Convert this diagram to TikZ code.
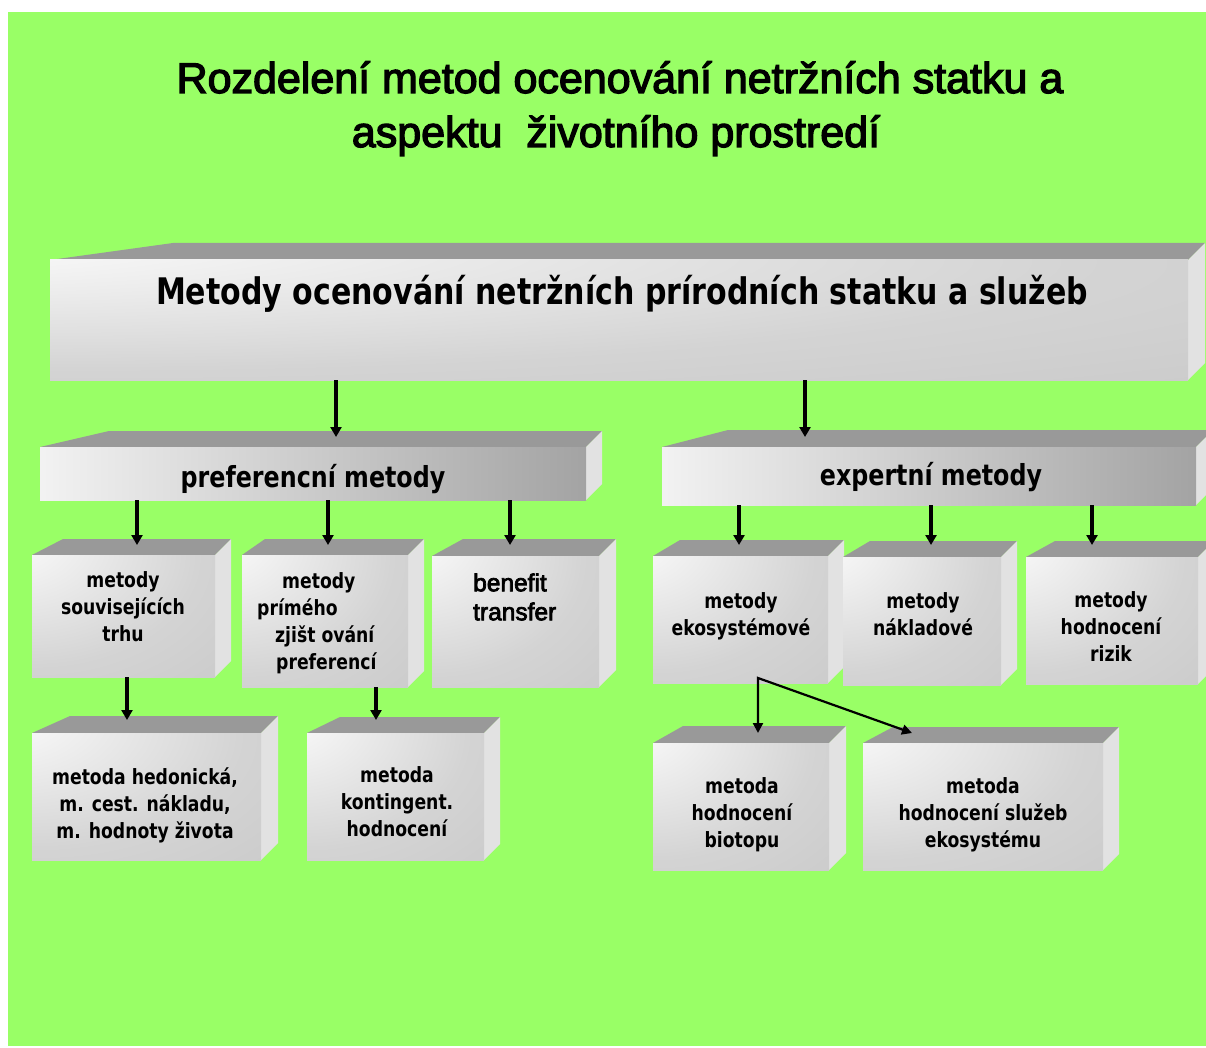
\documentclass[tikz,border=0pt]{standalone}
\usepackage{fontspec}
\setmainfont{Liberation Sans}
\newfontfamily\titlefont[FakeBold=3]{Liberation Sans}
\newfontfamily\boxfont[FakeStretch=0.82]{DejaVu Sans}
\usetikzlibrary{arrows.meta,calc}

\definecolor{bggreen}{HTML}{99FF66}
\definecolor{topgray}{HTML}{999999}
\definecolor{sidegray}{HTML}{E2E2E2}

\pgfdeclareradialshading{frontshade}{\pgfpoint{-35bp}{35bp}}{%
  color(0bp)=(white); color(45bp)=(black!17); color(90bp)=(black!24); color(150bp)=(black!26)}

\tikzset{
  front/.style={inner sep=0pt, outer sep=0pt, shading=frontshade},
  bar/.style={inner sep=0pt, outer sep=0pt, left color=black!5, right color=black!36},
  title/.style={inner sep=0pt, font={\titlefont\fontsize{43}{54}\selectfont}},
  maintext/.style={inner sep=0pt, font={\boxfont\bfseries\fontsize{36.6}{44}\selectfont}},
  bartext/.style={inner sep=0pt, font={\boxfont\bfseries\fontsize{29}{35}\selectfont}},
  boxtext/.style={inner sep=0pt, align=center, font={\boxfont\bfseries\fontsize{21}{27}\selectfont}},
  bentext/.style={inner sep=0pt, align=left, font={\titlefont\fontsize{24.5}{29}\selectfont}},
  arr/.style={-{Triangle[length=10pt,width=11pt]}, line width=3.2pt},
  thinarr/.style={{Triangle[length=10pt,width=10pt]}-{Triangle[length=10pt,width=10pt]}, line width=2.2pt}
}

% #1 style, #2 name, #3 #4 front top left, #5 #6 front bottom right, #7 back left x, #8 depth
\newcommand{\cuboid}[8][front]{%
  \fill[topgray] (#3,#4) -- (#7,#4-#8) -- (#5+#8,#4-#8) -- (#5,#4) -- cycle;
  \fill[sidegray] (#5,#4) -- (#5+#8,#4-#8) -- (#5+#8,#6-#8) -- (#5,#6) -- cycle;
  \node[#1, minimum width={(#5-#3)*1pt}, minimum height={(#6-#4)*1pt}, anchor=north west] (#2) at (#3,#4) {};
}

\begin{document}
\begin{tikzpicture}[x=1pt,y=-1pt,line cap=butt]
  % background
  \useasboundingbox (0,0) rectangle (1206,1048);
  \fill[white] (0,0) rectangle (1206,1048);
  \fill[bggreen] (8,12) rectangle (1206,1046);

  % title
  \node[title, anchor=base] (title1) at (620,93) {Rozdelení metod ocenování netržních statku a};
  \node[title, anchor=base] (title2) at (616,147) {aspektu~ životního prostredí};

  % boxes
  \cuboid{main}{50}{260}{1188}{380}{173}{17}
  \cuboid[bar]{barP}{40}{447}{586}{500}{109}{16}
  \cuboid[bar]{barE}{662}{447}{1196}{505}{728}{17}
  \cuboid{trh}{32}{555}{215}{677}{63}{16}
  \cuboid{prime}{242}{555}{408}{687}{265}{16}
  \cuboid{benefit}{432}{556}{599}{687}{463}{17}
  \cuboid{eko}{653}{556}{828}{683}{680}{16}
  \cuboid{naklad}{843}{557}{1001}{685}{870}{16}
  \cuboid{rizik}{1026}{557}{1198}{684}{1055}{16}
  \cuboid{hedon}{32}{733}{261}{860}{70}{17}
  \cuboid{konting}{307}{733}{484}{860}{340}{16}
  \cuboid{biotop}{653}{743}{829}{870}{683}{17}
  \cuboid{sluzeb}{863}{743}{1103}{870}{893}{16}

  % labels
  \node[maintext, anchor=base] (tmain) at (622,305) {Metody ocenování netržních prírodních statku a služeb};
  \node[bartext, anchor=base] (tbarP) at (313,487) {preferencní metody};
  \node[bartext, anchor=base] (tbarE) at (931,485) {expertní metody};
  \node[boxtext] (ttrh) at (123,607) {metody\\souvisejících\\trhu};
  \node[boxtext, align=left, anchor=west] (tprime) at (257,623)
    {\hspace*{25pt}metody\\prímého\\\hspace*{18pt}zjišt ování\\\hspace*{19pt}preferencí};
  \node[bentext, anchor=west] (tbenefit) at (473,597) {benefit\\transfer};
  \node[boxtext] (teko) at (741,616) {metody\\ekosystémové};
  \node[boxtext] (tnaklad) at (923,614) {metody\\nákladové};
  \node[boxtext] (trizik) at (1111,627) {metody\\hodnocení\\rizik};
  \node[boxtext] (thedon) at (145,805) {metoda hedonická,\\m. cest. nákladu,\\m. hodnoty života};
  \node[boxtext] (tkonting) at (397,802) {metoda\\kontingent.\\hodnocení};
  \node[boxtext] (tbiotop) at (742,815) {metoda\\hodnocení\\biotopu};
  \node[boxtext] (tsluzeb) at (983,815) {metoda\\hodnocení služeb\\ekosystému};

  % arrow positions
  \coordinate (xm1) at (336,0);
  \coordinate (xm2) at (805,0);
  \coordinate (xp1) at (137,0);
  \coordinate (xp2) at (328,0);
  \coordinate (xp3) at (510,0);
  \coordinate (xe1) at (739,0);
  \coordinate (xe2) at (931,0);
  \coordinate (xe3) at (1092,0);
  \coordinate (xh) at (127,0);
  \coordinate (xk) at (376,0);
  \coordinate (ekoj) at (758,678);

  % arrows
  \draw[arr] (main.south -| xm1) -- ($(barP.north -| xm1)+(0,-10)$);
  \draw[arr] (main.south -| xm2) -- ($(barE.north -| xm2)+(0,-10)$);
  \draw[arr] (barP.south -| xp1) -- ($(trh.north -| xp1)+(0,-10)$);
  \draw[arr] (barP.south -| xp2) -- ($(prime.north -| xp2)+(0,-10)$);
  \draw[arr] (barP.south -| xp3) -- ($(benefit.north -| xp3)+(0,-11)$);
  \draw[arr] (barE.south -| xe1) -- ($(eko.north -| xe1)+(0,-11)$);
  \draw[arr] (barE.south -| xe2) -- ($(naklad.north -| xe2)+(0,-12)$);
  \draw[arr] (barE.south -| xe3) -- ($(rizik.north -| xe3)+(0,-12)$);
  \draw[arr] (trh.south -| xh) -- ($(hedon.north -| xh)+(0,-13)$);
  \draw[arr] (prime.south -| xk) -- ($(konting.north -| xk)+(0,-13)$);
  \draw[thinarr] ($(biotop.north -| ekoj)+(0,-10)$) -- (ekoj) -- ($(sluzeb.north west)+(49,-10)$);
\end{tikzpicture}
\end{document}
